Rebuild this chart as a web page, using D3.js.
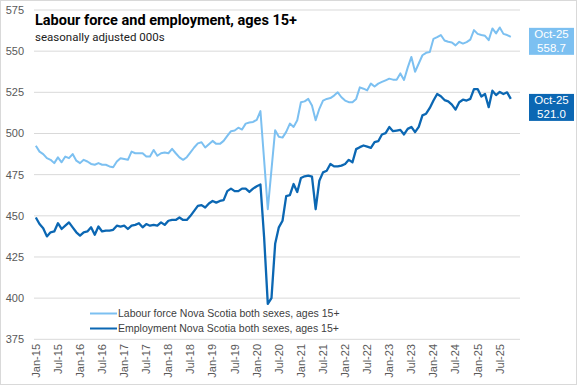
<!DOCTYPE html>
<html>
<head>
<meta charset="utf-8">
<script src="https://cdn.jsdelivr.net/npm/d3@7"></script>
<style>
  body { margin: 0; background: #fff; }
  text { font-family: "Liberation Sans", Arial, sans-serif; }
</style>
</head>
<body>
<script>
//Data (thousands, seasonally adjusted), Jan-15 to Oct-25
var months = d3.timeMonth.range(new Date(2015, 0, 1), new Date(2025, 10, 1));

var labourForce = [
  492.5, 489, 487.5, 485, 484, 482, 485.5, 482.5, 486, 485, 487.5, 483.5,
  482, 484, 483, 481.5, 481, 482, 481, 481, 480, 479.5, 483, 485,
  484.5, 484, 489, 488, 488, 488, 486, 486, 490, 486.5, 488, 488.5,
  488, 490.7, 488, 485.5, 484, 485.6, 488.5, 491.5, 494, 494.7, 491.5, 493.5,
  495.5, 493.7, 493.7, 495.5, 498.5, 501.4, 501.8, 503.5, 502.4, 506, 506.7, 507,
  508.3, 513.6, 484, 454, 478, 502, 498, 497.5, 501, 506, 504, 508,
  519, 519.5, 521, 517, 508, 515, 520, 521, 521.5, 523, 525, 522,
  520, 519, 519, 521, 528, 527.2, 526.2, 530.3, 528.5, 530.3, 531.3, 532.3,
  533.3, 532.7, 532.7, 536.5, 532.5, 540, 546.5, 537.5, 542.5, 547.5, 549, 549.5,
  557.5, 558.5, 559.8, 556.5, 555.7, 555.3, 553.5, 555.7, 554.6, 555.5, 557, 562.8,
  560.5, 559.8, 559.3, 556.7, 563.8, 560.8, 564.4, 560.5, 559.8, 558.7
];

var employment = [
  449, 445, 442.5, 437.5, 440, 440.5, 445.5, 442, 444, 446, 443, 440,
  438, 440, 440.5, 443, 438.5, 443.5, 440.5, 441, 441, 441.5, 444, 443.5,
  444, 442, 444, 444.5, 445.5, 443, 445, 444, 444.5, 444, 446, 444.5,
  447, 447.5, 447.5, 449, 447.5, 447.5, 450, 453, 456, 456.5, 455, 457.5,
  459, 458, 459, 459.5, 465, 466.5, 465, 465, 466.5, 466.5, 464.5, 466.5,
  468, 469, 437, 396.5, 400, 433, 443, 447, 462, 462.5, 469.3, 464.5,
  473, 474, 474.4, 473.8, 454, 471.3, 476.4, 477.4, 481.5, 480, 480, 480.5,
  481.5, 484, 482.5, 490.5, 491.7, 492.7, 492, 491.3, 494.7, 495.3, 499.4, 500.2,
  503.9, 501.4, 501.8, 502.2, 499.4, 502.8, 504, 500.8, 504, 511, 512, 515.5,
  520, 524, 522.6, 520.3, 519.5, 517.5, 514.5, 519, 520.5, 520, 521, 527,
  527, 522.5, 524, 516, 526, 523.3, 525.2, 524, 525, 521
];

var seriesNames = [
  "Labour force Nova Scotia both sexes, ages 15+",
  "Employment Nova Scotia both sexes, ages 15+"
];
var yTicks = [375, 400, 425, 450, 475, 500, 525, 550, 575];

//Settings for canvas
var settings = {
  width: 577,
  height: 385,
  left: 34,
  right: 520,
  top: 10,
  bottom: 339.3,
  light: "#7cc0f1",
  dark: "#0b67b3",
  grid: "#d9d9d9",
  label: "#595959"
};

var svg = d3.select("body").append("svg")
  .attr("width", settings.width)
  .attr("height", settings.height);

//Outer frame
svg.append("rect")
  .attr("x", 0.5).attr("y", 0.5)
  .attr("width", settings.width - 1).attr("height", settings.height - 1)
  .attr("fill", "#fff").attr("stroke", settings.grid);

//Scales (two empty months at the end of the category axis)
var x = d3.scaleLinear()
  .domain([-0.5, months.length + 1.5])
  .range([settings.left, settings.right]);
var y = d3.scaleLinear()
  .domain([375, 575])
  .range([settings.bottom, settings.top]);

//Gridlines and y labels
svg.append("g").selectAll("line")
  .data(yTicks)
  .enter().append("line")
  .attr("x1", settings.left).attr("x2", settings.right)
  .attr("y1", (d) => y(d)).attr("y2", (d) => y(d))
  .attr("stroke", settings.grid).attr("stroke-width", 1);

svg.append("g").selectAll("text")
  .data(yTicks)
  .enter().append("text")
  .attr("x", 24).attr("y", (d) => y(d))
  .attr("dy", "0.35em")
  .attr("text-anchor", "end")
  .style("font-size", "11px")
  .attr("fill", settings.label)
  .text((d) => d);

//X labels every six months, rotated
var fmt = d3.timeFormat("%b-%y");
var xTicks = months.map((d, i) => i).filter((i) => i % 6 == 0);
svg.append("g").selectAll("text")
  .data(xTicks)
  .enter().append("text")
  .attr("transform", (i) => "translate(" + x(i) + ",344) rotate(-90)")
  .attr("dy", "0.35em")
  .attr("text-anchor", "end")
  .style("font-size", "11px")
  .attr("fill", settings.label)
  .text((i) => fmt(months[i]));

//Lines
var line = d3.line()
  .x((d, i) => x(i))
  .y((d) => y(d));

svg.append("path")
  .datum(labourForce)
  .attr("d", line)
  .attr("fill", "none")
  .attr("stroke", settings.light)
  .attr("stroke-width", 2)
  .attr("stroke-linejoin", "round");

svg.append("path")
  .datum(employment)
  .attr("d", line)
  .attr("fill", "none")
  .attr("stroke", settings.dark)
  .attr("stroke-width", 2.3)
  .attr("stroke-linejoin", "round");

//Title
svg.append("text")
  .attr("x", 35).attr("y", 25)
  .style("font-size", "14.5px").style("font-weight", "bold")
  .style("font-family", "Roboto, sans-serif")
  .text("Labour force and employment, ages 15+");
svg.append("text")
  .attr("x", 35).attr("y", 41)
  .style("font-size", "11.5px")
  .style("font-family", "Roboto, sans-serif")
  .attr("fill", "#222")
  .text("seasonally adjusted 000s");

//Legend
var legendColors = [settings.light, settings.dark];
var legend = svg.append("g").selectAll("g")
  .data(seriesNames)
  .enter().append("g")
  .attr("transform", (d, i) => "translate(90," + (313.5 + i * 15) + ")");
legend.append("line")
  .attr("x1", 0).attr("x2", 27)
  .attr("stroke", (d, i) => legendColors[i])
  .attr("stroke-width", 2);
legend.append("text")
  .attr("x", 28).attr("dy", "0.35em")
  .style("font-size", "10.5px")
  .attr("fill", "#404040")
  .text((d) => d);

//End value labels
var ends = [
  { value: labourForce[labourForce.length - 1], color: settings.light, shift: -9 },
  { value: employment[employment.length - 1], color: settings.dark, shift: -5 }
];
var endLabel = svg.append("g").selectAll("g")
  .data(ends)
  .enter().append("g")
  .attr("transform", (d) => "translate(529," + (y(d.value) + d.shift) + ")");
endLabel.append("rect")
  .attr("width", 45).attr("height", 27)
  .attr("fill", (d) => d.color);
endLabel.append("text")
  .attr("x", 22.5).attr("y", 10.5)
  .attr("text-anchor", "middle")
  .style("font-size", "11.5px")
  .attr("fill", "#fff")
  .text(fmt(months[months.length - 1]));
endLabel.append("text")
  .attr("x", 22.5).attr("y", 24)
  .attr("text-anchor", "middle")
  .style("font-size", "11.5px")
  .attr("fill", "#fff")
  .text((d) => d.value.toFixed(1));
</script>
</body>
</html>
